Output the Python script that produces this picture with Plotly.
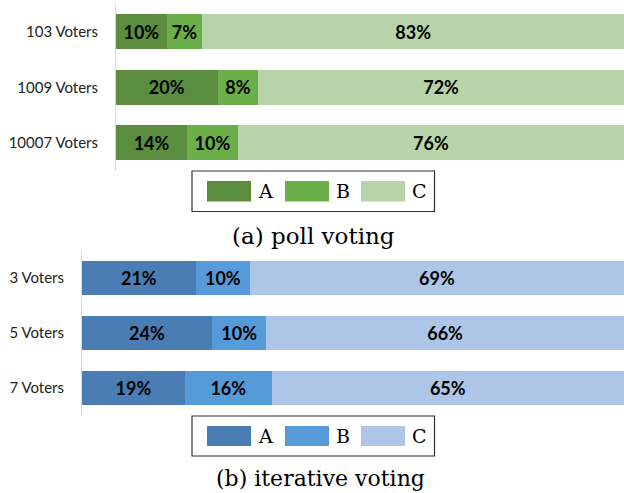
import plotly.graph_objects as go

# ---- data ----
series = ["A", "B", "C"]
poll_categories = ["103 Voters", "1009 Voters", "10007 Voters"]
poll_A = [10, 20, 14]
poll_B = [7, 8, 10]
poll_C = [83, 72, 76]

iter_categories = ["3 Voters", "5 Voters", "7 Voters"]
iter_A = [21, 24, 19]
iter_B = [10, 10, 16]
iter_C = [69, 66, 65]

green_colors = ["#5a8e3e", "#6aaf48", "#b7d4a9"]
blue_colors = ["#4a7db4", "#569ad9", "#adc5e6"]

captions = ["(a) poll voting", "(b) iterative voting"]

W, H = 624, 493
fig = go.Figure()

def px_x(x):
    return x / W

def px_y(y):
    return 1 - y / H

panels = [
    dict(cats=poll_categories, vals=[poll_A, poll_B, poll_C], colors=green_colors,
         xaxis="x", yaxis="y", x0=116, ytop=4, ybot=170.5,
         leg_top=171, leg_bot=211.5, cap_y=236, cap_x=313, cap_size=23,
         caption=captions[0]),
    dict(cats=iter_categories, vals=[iter_A, iter_B, iter_C], colors=blue_colors,
         xaxis="x2", yaxis="y2", x0=82, ytop=250.5, ybot=415.5,
         leg_top=416, leg_bot=456, cap_y=478, cap_x=321, cap_size=22,
         caption=captions[1]),
]

shapes = []
annotations = []
for p in panels:
    for name, vals, col in zip(series, p["vals"], p["colors"]):
        fig.add_trace(go.Bar(
            y=p["cats"], x=vals, name=name, orientation="h",
            marker=dict(color=col, line=dict(width=0)),
            text=[f"{v}%" for v in vals], textposition="inside",
            insidetextanchor="middle", textangle=0,
            textfont=dict(family="Lato", size=18, color="black", weight="bold"),
            xaxis=p["xaxis"], yaxis=p["yaxis"], showlegend=False,
            cliponaxis=False,
        ))
    # legend box
    lt, lb = p["leg_top"], p["leg_bot"]
    shapes.append(dict(type="rect", xref="paper", yref="paper",
                       x0=px_x(192), x1=px_x(434.5), y0=px_y(lb), y1=px_y(lt),
                       line=dict(color="#333333", width=1.2), fillcolor="white"))
    sw_x = [207, 285, 361]
    for i, (name, col) in enumerate(zip(series, p["colors"])):
        shapes.append(dict(type="rect", xref="paper", yref="paper",
                           x0=px_x(sw_x[i]), x1=px_x(sw_x[i] + 44),
                           y0=px_y(lb - 10), y1=px_y(lt + 10),
                           line=dict(width=0), fillcolor=col))
        annotations.append(dict(text=name, xref="paper", yref="paper",
                                x=px_x(sw_x[i] + 49), y=px_y((lt + lb) / 2),
                                xanchor="left", yanchor="middle", showarrow=False,
                                font=dict(family="DejaVu Serif", size=19, color="black")))
    annotations.append(dict(text=p["caption"], xref="paper", yref="paper",
                            x=px_x(p["cap_x"]), y=px_y(p["cap_y"]),
                            xanchor="center", yanchor="middle", showarrow=False,
                            font=dict(family="DejaVu Serif", size=p["cap_size"], color="black")))

common_x = dict(range=[0, 100], showgrid=False, zeroline=False, showticklabels=False,
                showline=False, fixedrange=True)
common_y = dict(showgrid=False, zeroline=False, showline=True, linecolor="#d9d9d9",
                linewidth=1, ticks="outside", ticklen=14, tickcolor="rgba(0,0,0,0)",
                tickfont=dict(family="Lato", size=15, color="#222222"),
                autorange="reversed", type="category")

fig.update_layout(
    width=W, height=H,
    margin=dict(l=0, r=0, t=0, b=0),
    paper_bgcolor="white", plot_bgcolor="white",
    barmode="stack", bargap=0.37,
    showlegend=False,
    xaxis=dict(domain=[px_x(116), 1], anchor="y", **common_x),
    yaxis=dict(domain=[px_y(panels[0]["ybot"]), px_y(panels[0]["ytop"])], anchor="x", **common_y),
    xaxis2=dict(domain=[px_x(82), 1], anchor="y2", **common_x),
    yaxis2=dict(domain=[px_y(panels[1]["ybot"]), px_y(panels[1]["ytop"])], anchor="x2", **common_y),
    shapes=shapes,
    annotations=annotations,
)

fig.write_html("out.html")
